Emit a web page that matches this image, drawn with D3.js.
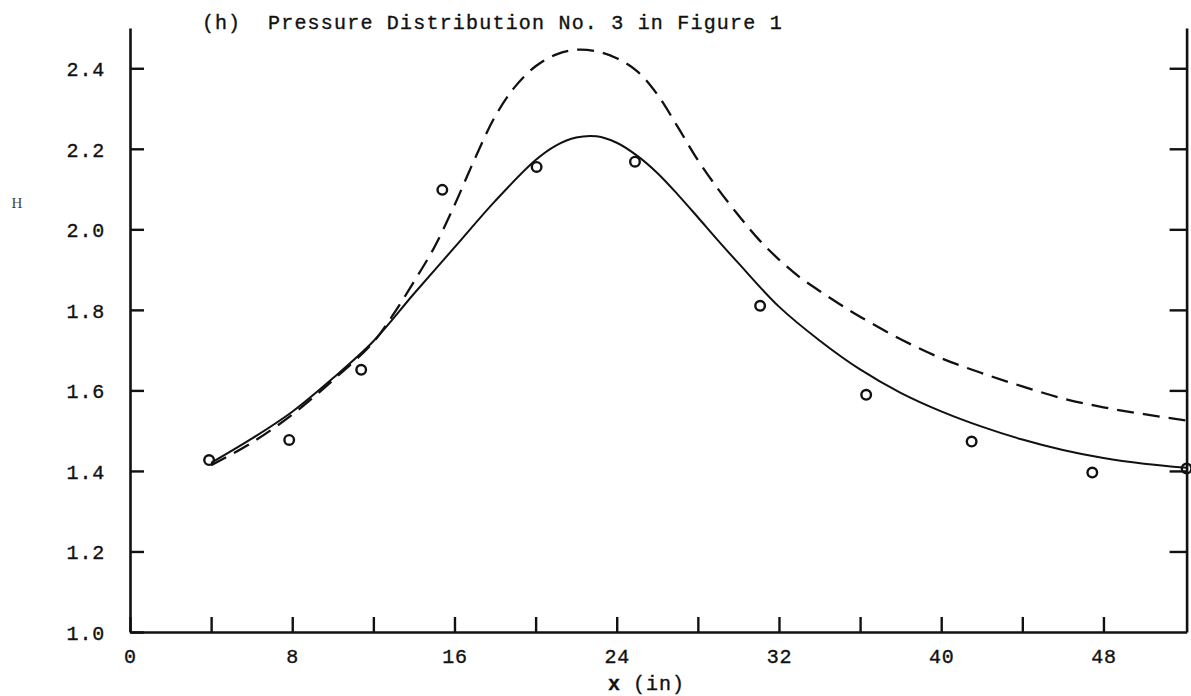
<!DOCTYPE html>
<html>
<head>
<meta charset="utf-8">
<script src="https://cdn.jsdelivr.net/npm/d3@7"></script>
<style>
  html, body { margin: 0; padding: 0; background: #fff; }
  svg { display: block; }
</style>
</head>
<body>
<svg id="chart" width="1191" height="696"></svg>
<script>
// ---- data ----
const xTickValues = [0, 4, 8, 12, 16, 20, 24, 28, 32, 36, 40, 44, 48];
const xTickLabels = ["0", "", "8", "", "16", "", "24", "", "32", "", "40", "", "48"];
const yTickValues = [1.0, 1.2, 1.4, 1.6, 1.8, 2.0, 2.2, 2.4];
const yTickLabels = ["1.0", "1.2", "1.4", "1.6", "1.8", "2.0", "2.2", "2.4"];

// measured points (open circles)
const pointX = [3.9, 7.85, 11.4, 15.4, 20.05, 24.9, 31.07, 36.3, 41.5, 47.45, 52.1];
const pointH = [1.427, 1.477, 1.651, 2.098, 2.155, 2.168, 1.81, 1.589, 1.473, 1.396, 1.406];

// solid curve
const solidX = [4, 6, 8, 10, 12, 14, 16, 18, 20, 21, 22, 23, 24, 25, 26, 27, 28, 29, 30, 32, 34, 36, 38, 40, 42, 44, 46, 48, 50, 52.1];
const solidH = [1.42, 1.48, 1.547, 1.63, 1.722, 1.84, 1.955, 2.07, 2.172, 2.208, 2.228, 2.231, 2.215, 2.183, 2.14, 2.087, 2.03, 1.972, 1.916, 1.808, 1.724, 1.652, 1.594, 1.548, 1.51, 1.478, 1.452, 1.432, 1.418, 1.408];

// dashed curve
const dashX = [4, 6, 8, 10, 12, 13, 14, 15, 16, 17, 18, 19, 20, 21, 22, 23, 24, 25, 26, 27, 28, 29, 30, 31, 32, 33, 34, 35, 36, 38, 40, 42, 44, 46, 48, 50, 52.1];
const dashH = [1.414, 1.47, 1.54, 1.625, 1.72, 1.79, 1.87, 1.955, 2.06, 2.175, 2.28, 2.355, 2.405, 2.434, 2.446, 2.442, 2.425, 2.393, 2.335, 2.255, 2.172, 2.10, 2.035, 1.975, 1.925, 1.882, 1.847, 1.814, 1.783, 1.727, 1.68, 1.643, 1.61, 1.58, 1.558, 1.541, 1.525];

// ---- drawing ----
const svg = d3.select("#chart");
const ink = "#111";

const x = d3.scaleLinear().domain([0, 52.1]).range([130, 1186.6]);
const y = d3.scaleLinear().domain([1.0, 2.5]).range([632, 28]);

const fontFamily = '"Liberation Mono", "DejaVu Sans Mono", monospace';

function styleText(sel, spacing) {
  return sel.attr("fill", ink)
    .attr("stroke", ink).attr("stroke-width", 0.35)
    .style("font-family", fontFamily).style("font-size", "20px")
    .style("letter-spacing", spacing);
}

// bottom axis
const gx = svg.append("g")
  .attr("transform", `translate(0,${y(1.0)})`)
  .call(d3.axisBottom(x)
    .tickValues(xTickValues)
    .tickSizeInner(-15)
    .tickSizeOuter(0)
    .tickFormat((d, i) => xTickLabels[i]));
gx.select(".domain").attr("stroke", ink).attr("stroke-width", 2.6);
gx.selectAll(".tick line").attr("stroke", ink).attr("stroke-width", 2.4);
styleText(gx.selectAll(".tick text").attr("y", 31).attr("dy", null), "0.8px");

// left axis
const gy = svg.append("g")
  .attr("transform", `translate(${x(0)},0)`)
  .call(d3.axisLeft(y)
    .tickValues(yTickValues)
    .tickSizeInner(-14)
    .tickSizeOuter(0)
    .tickFormat((d, i) => yTickLabels[i]));
gy.select(".domain").attr("stroke", ink).attr("stroke-width", 2.6);
gy.selectAll(".tick line").attr("stroke", ink).attr("stroke-width", 2.4);
styleText(gy.selectAll(".tick text").attr("x", -25).attr("dy", "0.36em"), "0.8px");

// right axis (ticks only, pointing inward)
const gr = svg.append("g")
  .attr("transform", `translate(${x(52.1)},0)`)
  .call(d3.axisRight(y)
    .tickValues(yTickValues.slice(1))
    .tickSizeInner(-17)
    .tickSizeOuter(0)
    .tickFormat(""));
gr.select(".domain").attr("stroke", ink).attr("stroke-width", 2.6);
gr.selectAll(".tick line").attr("stroke", ink).attr("stroke-width", 2.4);

// curves
const line = d3.line()
  .x(d => x(d[0]))
  .y(d => y(d[1]))
  .curve(d3.curveCatmullRom.alpha(0.5));

svg.append("path")
  .datum(dashX.map((v, i) => [v, dashH[i]]))
  .attr("d", line)
  .attr("fill", "none")
  .attr("stroke", ink)
  .attr("stroke-width", 2.3)
  .attr("stroke-dasharray", "17,9");

svg.append("path")
  .datum(solidX.map((v, i) => [v, solidH[i]]))
  .attr("d", line)
  .attr("fill", "none")
  .attr("stroke", ink)
  .attr("stroke-width", 2);

// points
svg.append("g").selectAll("circle")
  .data(pointX.map((v, i) => [v, pointH[i]]))
  .join("circle")
  .attr("cx", d => x(d[0]))
  .attr("cy", d => y(d[1]))
  .attr("r", 4.8)
  .attr("fill", "none")
  .attr("stroke", ink)
  .attr("stroke-width", 2.4);

// title
styleText(svg.append("text").attr("x", 202).attr("y", 29), "1px").text("(h)");
styleText(svg.append("text").attr("x", 268).attr("y", 29), "1.2px")
  .text("Pressure Distribution No. 3 in Figure 1");

// axis titles
svg.append("text")
  .attr("x", 17).attr("y", 208)
  .attr("text-anchor", "middle")
  .attr("fill", "#444")
  .style("font-family", '"Liberation Serif", serif').style("font-size", "15px")
  .text("H");

const xl = styleText(svg.append("text").attr("x", 608).attr("y", 690), "1px");
xl.append("tspan").style("font-weight", "bold").text("x");
xl.append("tspan").attr("dx", 12).text("(in)");
</script>
</body>
</html>
